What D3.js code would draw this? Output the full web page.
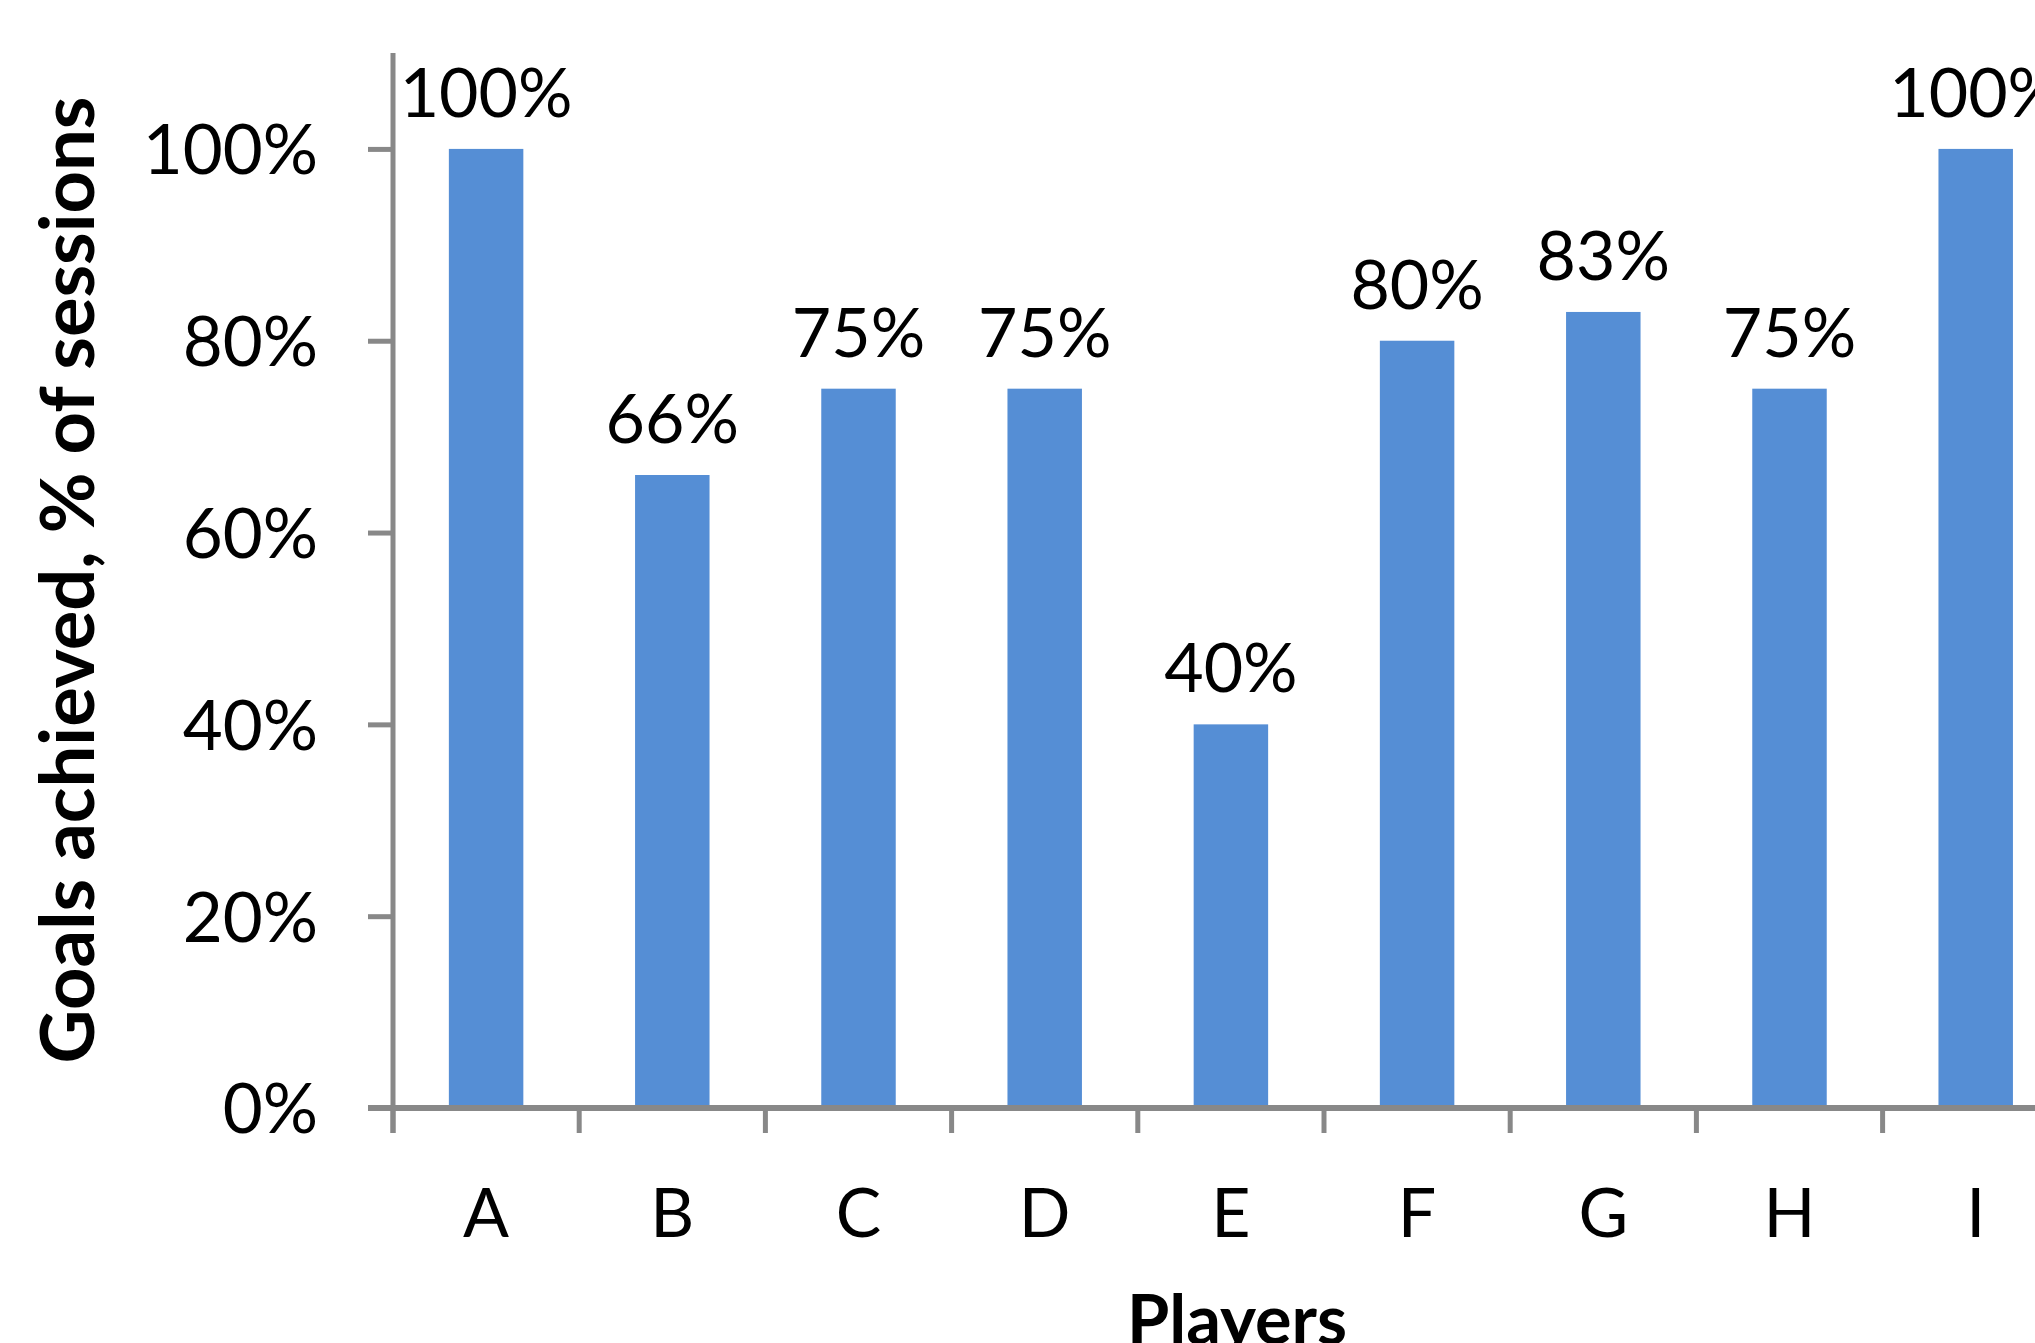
<!DOCTYPE html>
<html>
<head>
<meta charset="utf-8">
<script src="https://cdn.jsdelivr.net/npm/d3@7"></script>
<style>
  html, body { margin: 0; padding: 0; background: #ffffff; overflow: hidden; }
  svg { display: block; }
</style>
</head>
<body>
<svg id="chart" width="2035" height="1343"></svg>
<script>
// Share of sessions in which each player achieved the goal
const players = ["A", "B", "C", "D", "E", "F", "G", "H", "I"];
const goalsAchieved = [1.00, 0.66, 0.75, 0.75, 0.40, 0.80, 0.83, 0.75, 1.00];
const yTicks = [0, 0.2, 0.4, 0.6, 0.8, 1.0];
const yTitle = "Goals achieved, % of sessions";
const xTitle = "Players";

const W = 2035, H = 1343;
const axisColor = "#888888";
const barColor = "#558ED5";
const font = "Lato, 'Open Sans', sans-serif";

const svg = d3.select("#chart");

// Plot area (the right-hand end runs past the edge of the page)
const left = 393, zeroY = 1108, topY = 53;
const step = 186.2;

const x = d3.scaleBand()
  .domain(players)
  .range([left, left + step * players.length])
  .paddingInner(0.6)
  .paddingOuter(0.3);

const y = d3.scaleLinear()
  .domain([0, 1.1])
  .range([zeroY, topY]);

// Bars
svg.append("g")
  .selectAll("rect")
  .data(players)
  .join("rect")
  .attr("x", d => x(d))
  .attr("y", (d, i) => y(goalsAchieved[i]))
  .attr("width", x.bandwidth())
  .attr("height", (d, i) => y(0) - y(goalsAchieved[i]))
  .attr("fill", barColor);

// Value labels above bars
svg.append("g")
  .selectAll("text")
  .data(players)
  .join("text")
  .attr("x", d => x(d) + x.bandwidth() / 2)
  .attr("y", (d, i) => y(goalsAchieved[i]) - 32)
  .attr("text-anchor", "middle")
  .attr("font-family", font)
  .attr("font-size", 68)
  .attr("fill", "#000")
  .text((d, i) => d3.format(".0%")(goalsAchieved[i]));

// Y axis
const yAxis = d3.axisLeft(y)
  .tickValues(yTicks)
  .tickFormat(d3.format(".0%"))
  .tickSize(25)
  .tickPadding(50);

const gy = svg.append("g")
  .attr("transform", `translate(${left},0)`)
  .call(yAxis);
gy.select(".domain").remove();
gy.selectAll(".tick line").attr("stroke", axisColor).attr("stroke-width", 5);
gy.selectAll(".tick text")
  .attr("font-family", font)
  .attr("font-size", 69)
  .attr("fill", "#000")
  .attr("dy", "0.36em");
gy.append("line")
  .attr("x1", 0).attr("x2", 0)
  .attr("y1", topY).attr("y2", zeroY + 25)
  .attr("stroke", axisColor).attr("stroke-width", 5);

// X axis: ticks sit on the category boundaries
const boundaries = d3.range(players.length + 1).map(i => left + i * step);
const gx = svg.append("g");
gx.append("line")
  .attr("x1", left - 25).attr("x2", W + 10)
  .attr("y1", zeroY).attr("y2", zeroY)
  .attr("stroke", axisColor).attr("stroke-width", 6);
gx.selectAll("line.tk")
  .data(boundaries)
  .join("line")
  .attr("class", "tk")
  .attr("x1", d => d).attr("x2", d => d)
  .attr("y1", zeroY).attr("y2", zeroY + 25)
  .attr("stroke", axisColor).attr("stroke-width", 5);
gx.selectAll("text")
  .data(players)
  .join("text")
  .attr("x", d => x(d) + x.bandwidth() / 2)
  .attr("y", 1237)
  .attr("text-anchor", "middle")
  .attr("font-family", font)
  .attr("font-size", 68)
  .attr("fill", "#000")
  .text(d => d);

// Axis titles, sized to their measured spans
function fitText(sel, target) {
  const len = sel.node().getComputedTextLength();
  const fs = +sel.attr("font-size");
  sel.attr("font-size", fs * target / len);
}

const yt = svg.append("text")
  .attr("transform", "translate(94,580) rotate(-90)")
  .attr("text-anchor", "middle")
  .attr("font-family", font)
  .attr("font-weight", "bold")
  .attr("font-size", 72)
  .attr("fill", "#000")
  .text(yTitle);
fitText(yt, 967);

const xt = svg.append("text")
  .attr("x", 1237)
  .attr("y", 1344)
  .attr("text-anchor", "middle")
  .attr("font-family", font)
  .attr("font-weight", "bold")
  .attr("font-size", 72)
  .attr("fill", "#000")
  .text(xTitle);
fitText(xt, 220);
</script>
</body>
</html>
